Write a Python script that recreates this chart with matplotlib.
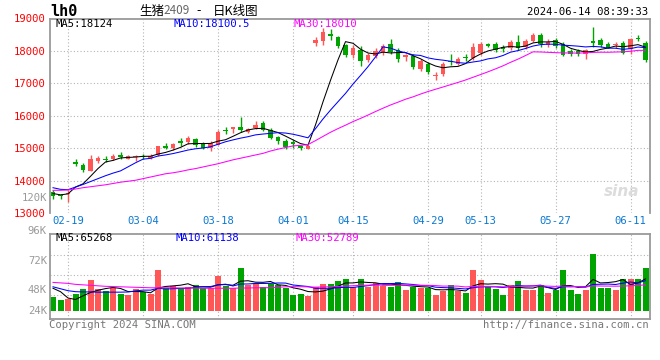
import matplotlib

matplotlib.use("Agg")

import matplotlib.pyplot as plt
import numpy as np

# trading days 2024-02-07 .. 2024-06-13 (80 sessions)
tick_idx = [2, 12, 22, 32, 40, 50, 57, 67, 77]
tick_labels = ["02-19", "03-04", "03-18", "04-01", "04-15",
               "04-29", "05-13", "05-27", "06-11"]

opens = [
    13650, 13540, 13580, 14560, 14470, 14300, 14590, 14670, 14670, 14780,
    14680, 14740, 14770, 14710, 14790, 15080, 14990, 15220, 15190, 15270,
    15160, 15010, 15110, 15560, 15600, 15650, 15510, 15630, 15780, 15560,
    15330, 15230, 15180, 15070, 14980, 18230, 18310, 18510, 18430, 18180,
    17880, 18040, 17720, 17840, 17960, 18200, 18040, 17820, 17850, 17450,
    17610, 17220, 17300, 17700, 17610, 17810, 17770, 17930, 18210, 18210,
    18110, 18090, 18270, 18110, 18320, 18500, 18180, 18340, 18210, 18010,
    18010, 17890, 18310, 18340, 18210, 18180, 18230, 18070, 18400, 18230,
]
highs = [
    13700, 13590, 13720, 14670, 14540, 14800, 14760, 14770, 14830, 14890,
    14800, 14790, 14830, 14830, 15080, 15150, 15170, 15300, 15360, 15320,
    15190, 15210, 15550, 15640, 15660, 15950, 15620, 15830, 15850, 15620,
    15380, 15280, 15260, 15110, 15090, 18430, 18700, 18680, 18470, 18220,
    18180, 18160, 17940, 18090, 18200, 18370, 18100, 17920, 17900, 17740,
    17660, 17350, 17660, 17900, 17800, 17900, 18230, 18280, 18250, 18260,
    18170, 18340, 18480, 18360, 18540, 18540, 18360, 18400, 18290, 18060,
    18050, 18070, 18750, 18390, 18260, 18260, 18300, 18400, 18500, 18300,
]
lows = [
    13420, 13440, 13330, 14450, 14260, 14290, 14550, 14560, 14630, 14670,
    14660, 14600, 14680, 14680, 14770, 14960, 14950, 15070, 15130, 15030,
    14980, 14900, 15100, 15440, 15460, 15500, 15470, 15580, 15520, 15280,
    15130, 14970, 14990, 14950, 14960, 18150, 18170, 18350, 18080, 17820,
    17780, 17550, 17660, 17780, 17880, 17920, 17670, 17680, 17440, 17380,
    17290, 17110, 17220, 17570, 17570, 17680, 17720, 17880, 18120, 17960,
    17980, 18040, 18030, 18060, 18290, 18130, 18130, 18090, 17850, 17830,
    17830, 17760, 18130, 18110, 18080, 18080, 17900, 17890, 18300, 17650,
]
closes = [
    13520, 13510, 13620, 14510, 14340, 14680, 14710, 14630, 14750, 14720,
    14760, 14770, 14740, 14760, 15060, 15010, 15130, 15160, 15310, 15110,
    15000, 15150, 15510, 15530, 15640, 15550, 15580, 15720, 15570, 15320,
    15220, 15030, 15140, 15000, 15070, 18350, 18590, 18460, 18150, 17880,
    18100, 17680, 17870, 18000, 18160, 17980, 17740, 17870, 17510, 17690,
    17350, 17250, 17600, 17660, 17750, 17780, 18120, 18210, 18140, 18020,
    18060, 18270, 18090, 18310, 18500, 18220, 18270, 18160, 17870, 17890,
    17890, 18030, 18240, 18180, 18100, 18200, 17930, 18380, 18360, 17710,
]
# volume, thousand lots
volumes = [
    28.1, 21.9, 23.4, 34.2, 44.5, 62.9, 44.5, 40.4, 45.9, 34.2,
    31.6, 44.5, 39.0, 34.2, 83.4, 47.2, 50.6, 45.9, 49.2, 52.7,
    45.9, 47.2, 71.1, 50.6, 45.9, 87.5, 52.1, 56.2, 49.2, 54.7,
    53.3, 45.9, 32.2, 34.2, 30.8, 49.2, 54.7, 54.7, 60.9, 65.0,
    49.2, 65.0, 49.2, 57.4, 51.3, 49.2, 58.8, 43.1, 49.2, 45.9,
    45.9, 32.2, 40.4, 52.7, 40.4, 36.9, 83.4, 62.9, 49.2, 44.5,
    32.2, 52.7, 60.9, 43.1, 43.1, 52.7, 36.9, 41.8, 83.4, 43.1,
    34.2, 43.1, 116.9, 47.2, 47.2, 43.1, 65.0, 65.0, 65.0, 88.2,
]

# moving-average values before enough in-window history exists
ma5_head = [13600, 13560, 13590, 13800]
ma10_head = [13780, 13730, 13720, 13800, 13880, 13970, 14060, 14150, 14230]
ma30_head = [
    13700, 13700, 13710, 13740, 13780, 13810, 13840, 13870, 13910, 13950,
    13980, 14010, 14060, 14110, 14160, 14210, 14240, 14280, 14330, 14370,
    14420, 14470, 14520, 14580, 14640, 14690, 14740, 14790, 14840,
]
vma5_head = [46, 39, 26, 23]
vma10_head = [49, 45, 41, 39, 38.5, 38.5, 38, 38, 38]
vma30_head = [
    58, 57, 56, 54, 53, 52, 51, 50, 49.5, 49,
    48.5, 48, 47.5, 47, 47, 47, 47, 46.5, 46.5, 46.5,
    46, 46, 46, 46, 46, 46.5, 46.5, 47, 47,
]

price_ticks = [13000, 14000, 15000, 16000, 17000, 18000, 19000]
vol_tick_labels = ["120K", "96K", "72K", "48K", "24K"]

RED = "#ff5656"
GREEN = "#00a400"
BLUE = "#0000ff"
MAGENTA = "#ff00ff"
FRAME = "#9a9a9a"
GRID = "#b4b4b4"
MONO = "DejaVu Sans Mono"
CJK = ["Noto Sans CJK SC", "DejaVu Sans"]

W, H = 660, 360


def fx(x):
    return x / W


def fy(y):
    return 1 - y / H


def moving_average(values, window, head):
    out = list(head)
    for i in range(len(head), len(values)):
        out.append(np.mean(values[i - window + 1:i + 1]))
    return np.array(out)


def dotted_grid(ax, horizontal=True):
    for i in tick_idx:
        ax.axvline(i, color=GRID, lw=0.8, ls=(0, (1, 2)), zorder=0)
    if horizontal:
        for p in price_ticks[1:-1]:
            ax.axhline(p, color=GRID, lw=0.8, ls=(0, (1, 2)), zorder=0)


x = np.arange(len(closes))
o = np.array(opens)
c = np.array(closes)
up = c >= o
colors = [RED if u else GREEN for u in up]

fig = plt.figure(figsize=(6.6, 3.6), dpi=100)

# price panel
ax = fig.add_axes([fx(50), fy(213), fx(600), 194.5 / H])
ax.set_xlim(-0.4, 79.6)
ax.set_ylim(13000, 19000)
dotted_grid(ax)

ax.vlines(x, lows, highs, colors=colors, lw=1, zorder=2)
body_low = np.minimum(o, c)
body_h = np.maximum(np.abs(c - o), 30)
ax.bar(x, body_h, bottom=body_low, width=0.66, color=colors, zorder=3)

ax.plot(x, moving_average(closes, 5, ma5_head), color="black", lw=0.75, zorder=4)
ax.plot(x, moving_average(closes, 10, ma10_head), color=BLUE, lw=0.75, zorder=4)
ax.plot(x, moving_average(closes, 30, ma30_head), color=MAGENTA, lw=0.75, zorder=4)

ax.set_yticks(price_ticks)
ax.set_yticklabels([str(p) for p in price_ticks])
ax.set_xticks(tick_idx)
ax.set_xticklabels(tick_labels)
ax.tick_params(axis="y", length=0, pad=3, labelsize=7.6, labelcolor="#ff0000")
ax.tick_params(axis="x", length=0, pad=2, labelsize=7.6, labelcolor="#0a78d2")
for lab in ax.get_xticklabels() + ax.get_yticklabels():
    lab.set_fontfamily(MONO)
for side in ["top", "left", "right"]:
    ax.spines[side].set_color(FRAME)
    ax.spines[side].set_linewidth(1.3)
ax.spines["bottom"].set_visible(False)

# volume panel
vax = fig.add_axes([fx(50), fy(319), fx(600), 85 / H])
vax.set_xlim(-0.4, 79.6)
vax.set_ylim(-17.0, 157.2)
dotted_grid(vax, horizontal=False)
for frac in [0.753, 0.518, 0.282]:
    vax.plot([0, 1], [frac, frac], transform=vax.transAxes,
             color=GRID, lw=0.8, ls=(0, (1, 2)), zorder=0)

vax.bar(x, volumes, width=0.8, color=colors, zorder=2)
vax.plot(x, moving_average(volumes, 5, vma5_head), color="black", lw=0.75, zorder=3)
vax.plot(x, moving_average(volumes, 10, vma10_head), color=BLUE, lw=0.75, zorder=3)
vax.plot(x, moving_average(volumes, 30, vma30_head), color=MAGENTA, lw=0.75, zorder=3)
vax.set_xticks([])
vax.set_yticks([])
for spine in vax.spines.values():
    spine.set_color(FRAME)
    spine.set_linewidth(1.3)

for label, ypx in zip(vol_tick_labels, [198, 231, 261, 290, 311]):
    fig.text(fx(47), fy(ypx), label, ha="right", va="center",
             fontsize=7.6, family=MONO, color="#999999")

# header
fig.text(fx(50), fy(12), "lh0", ha="left", va="center",
         fontsize=11, family=MONO, weight="bold")
fig.text(fx(139), fy(11), "生猪", ha="left", va="center", fontsize=9, family=CJK)
fig.text(fx(163), fy(11), "2409", ha="left", va="center", fontsize=8.5,
         family=CJK, color="#666666")
fig.text(fx(196), fy(11), "-", ha="left", va="center", fontsize=9, family=CJK)
fig.text(fx(213), fy(11), "日K线图", ha="left", va="center", fontsize=9, family=CJK)
fig.text(fx(648), fy(12), "2024-06-14 08:39:33", ha="right", va="center",
         fontsize=7.6, family=MONO)

# MA readouts
for txt, col, xpx in [("MA5:18124", "black", 55),
                      ("MA10:18100.5", BLUE, 174),
                      ("MA30:18010", MAGENTA, 294)]:
    fig.text(fx(xpx), fy(24), txt, ha="left", va="center",
             fontsize=7.6, family=MONO, color=col)
for txt, col, xpx in [("MA5:65268", "black", 55),
                      ("MA10:61138", BLUE, 175),
                      ("MA30:52789", MAGENTA, 295)]:
    fig.text(fx(xpx), fy(238), txt, ha="left", va="center",
             fontsize=7.6, family=MONO, color=col)

# footer + watermark
fig.text(fx(49), fy(325), "Copyright 2024 SINA.COM", ha="left", va="center",
         fontsize=7.6, family=MONO, color="#777777")
fig.text(fx(649), fy(325), "http://finance.sina.com.cn", ha="right", va="center",
         fontsize=7.6, family=MONO, color="#777777")
fig.text(fx(622), fy(192), "sina", ha="center", va="center", fontsize=11,
         style="italic", weight="bold", color="#dcdcdc", zorder=0)

fig.savefig("out.png", dpi=100)
